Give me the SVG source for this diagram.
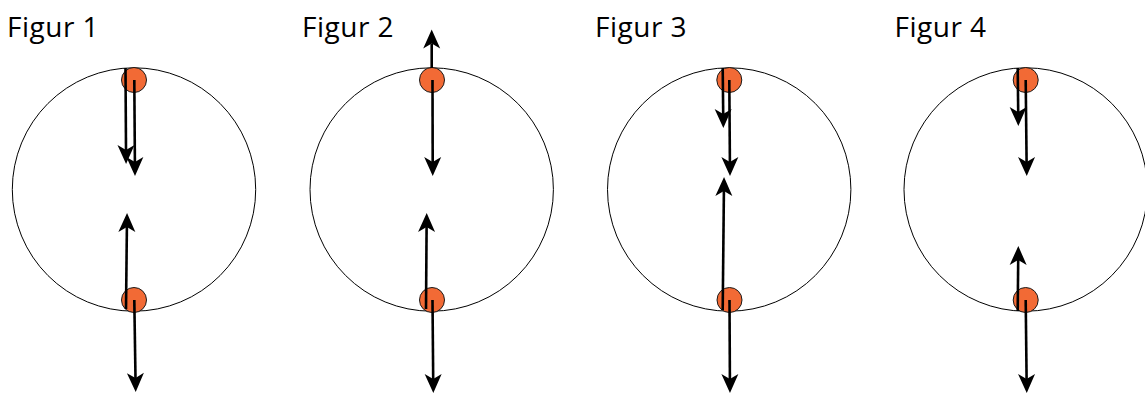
<svg xmlns="http://www.w3.org/2000/svg" width="1145" height="394" viewBox="0 0 1145 394">
<style>
.lbl{font-family:"Open Sans","Liberation Sans",sans-serif;font-size:28px;fill:#000;letter-spacing:0.5px}
.wheel{fill:none;stroke:#000;stroke-width:1}
.ball{fill:#F26A35;stroke:#1a1a1a;stroke-width:1}
.arr{stroke:#000;stroke-width:2.6;fill:none;marker-end:url(#ah)}
</style>
<defs>
<marker id="ah" markerUnits="userSpaceOnUse" markerWidth="24" markerHeight="24" viewBox="-6 -10 24 20" refX="0" refY="0" orient="auto">
<path d="M14,0 L-5,-8.5 L0,0 L-5,8.5 Z" fill="#000"/>
</marker>
</defs>
<rect width="1145" height="394" fill="#fff"/>
<g id="fig1">
<text class="lbl" x="7" y="36.5">Figur 1</text>
<circle class="wheel" cx="134" cy="189.5" r="121.7"/>
<circle class="ball" cx="134" cy="80" r="12.5"/>
<circle class="ball" cx="134" cy="300" r="12.5"/>
</g>
<g id="fig2">
<text class="lbl" x="302" y="36.5">Figur 2</text>
<circle class="wheel" cx="431.7" cy="189.5" r="121.7"/>
<circle class="ball" cx="432" cy="80" r="12.5"/>
<circle class="ball" cx="432" cy="300" r="12.5"/>
</g>
<g id="fig3">
<text class="lbl" x="595" y="36.5">Figur 3</text>
<circle class="wheel" cx="729.2" cy="189.5" r="121.7"/>
<circle class="ball" cx="729.3" cy="80" r="12.5"/>
<circle class="ball" cx="729.5" cy="300" r="12.5"/>
</g>
<g id="fig4">
<text class="lbl" x="894.5" y="36.5">Figur 4</text>
<circle class="wheel" cx="1025.7" cy="189.5" r="121.7"/>
<circle class="ball" cx="1025.7" cy="80" r="12.5"/>
<circle class="ball" cx="1025.7" cy="300" r="12.5"/>
</g>
<g id="connectors">
<line class="arr" x1="125.5" y1="68" x2="126" y2="150"/>
<line class="arr" x1="134.3" y1="80" x2="134.9" y2="162"/>
<line class="arr" x1="126" y1="309" x2="126.9" y2="227"/>
<line class="arr" x1="134.3" y1="300" x2="135.5" y2="378"/>
<line class="arr" x1="431.7" y1="68" x2="431.7" y2="43.5"/>
<line class="arr" x1="432.5" y1="80" x2="432.7" y2="162"/>
<line class="arr" x1="426" y1="309" x2="426.6" y2="227"/>
<line class="arr" x1="432.5" y1="300" x2="433.2" y2="379"/>
<line class="arr" x1="722.7" y1="68" x2="723.2" y2="114"/>
<line class="arr" x1="729.3" y1="80" x2="729.9" y2="162"/>
<line class="arr" x1="722.7" y1="310" x2="723.9" y2="191"/>
<line class="arr" x1="729.5" y1="300" x2="729.9" y2="379"/>
<line class="arr" x1="1017.7" y1="68" x2="1018.2" y2="112"/>
<line class="arr" x1="1025.7" y1="80" x2="1026.6" y2="162"/>
<line class="arr" x1="1017.7" y1="311" x2="1018.2" y2="260"/>
<line class="arr" x1="1025.7" y1="300" x2="1026.6" y2="379"/>
</g>
</svg>
